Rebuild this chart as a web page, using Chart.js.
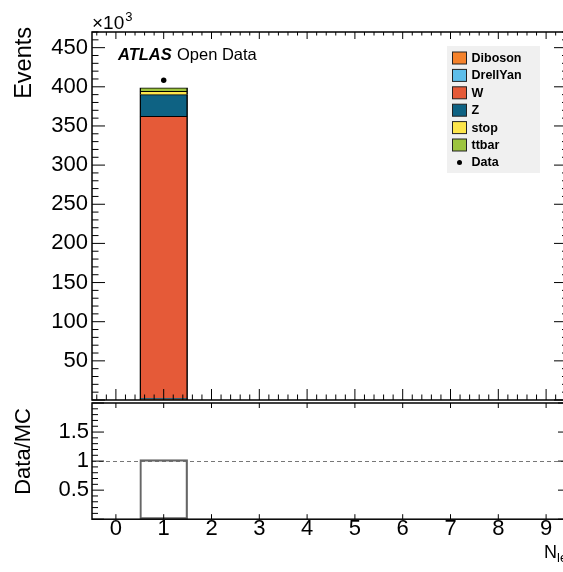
<!DOCTYPE html>
<html>
<head>
<meta charset="utf-8">
<title>N_lep</title>
<script src="https://cdn.jsdelivr.net/npm/chart.js@4.4.1/dist/chart.umd.min.js"></script>
<style>
  html, body { margin: 0; padding: 0; background: #fff; overflow: hidden; }
  #wrap { position: relative; width: 563px; height: 572px; overflow: hidden; }
  #mainPad { position: absolute; left: 0; top: 0; }
  #ratioPad { position: absolute; left: 0; top: 400px; }
</style>
</head>
<body>
<div id="wrap">
  <canvas id="mainPad" width="600" height="404"></canvas>
  <canvas id="ratioPad" width="600" height="172"></canvas>
</div>
<script>
// lepton multiplicity bins
const bins = [0, 1, 2, 3, 4, 5, 6, 7, 8, 9];

// stacked MC yields per bin, in units of 10^3 events
const diboson   = [0, 0.9, 0, 0, 0, 0, 0, 0, 0, 0];
const drellYan  = [0, 1.1, 0, 0, 0, 0, 0, 0, 0, 0];
const wJets     = [0, 360.3, 0, 0, 0, 0, 0, 0, 0, 0];
const zJets     = [0, 27.7, 0, 0, 0, 0, 0, 0, 0, 0];
const singleTop = [0, 4.2, 0, 0, 0, 0, 0, 0, 0, 0];
const ttbar     = [0, 4.4, 0, 0, 0, 0, 0, 0, 0, 0];

// observed events, 10^3
const dataCounts = [null, 408.3, null, null, null, null, null, null, null, null];

const eventTicks = [50, 100, 150, 200, 250, 300, 350, 400, 450];
const ratioTicks = [0.5, 1, 1.5];

const FONT = '"Liberation Sans", Arial, Helvetica, sans-serif';

// data / total MC, empty where there is no prediction
const mcTotal = bins.map((b, i) => diboson[i] + drellYan[i] + wJets[i] + zJets[i] + singleTop[i] + ttbar[i]);
const ratio = bins.map((b, i) => (mcTotal[i] > 0 && dataCounts[i] != null) ? dataCounts[i] / mcTotal[i] : null);

const processes = [
    { label: 'Diboson',  data: diboson,   color: '#f5822b' },
    { label: 'DrellYan', data: drellYan,  color: '#5ebeea' },
    { label: 'W',        data: wJets,     color: '#e55a38' },
    { label: 'Z',        data: zJets,     color: '#0e6283' },
    { label: 'stop',     data: singleTop, color: '#fde64b' },
    { label: 'ttbar',    data: ttbar,     color: '#9cc43f' }
];

// frame + ROOT style inward ticks on all four sides
function drawTicks(ctx, scale, from, to, minorStep, majorStep, horizontal, base, dir, majLen, minLen) {
    const m = Math.round(majorStep / minorStep);
    const k0 = Math.ceil(from / minorStep - 1e-6);
    const k1 = Math.floor(to / minorStep + 1e-6);
    for (let k = k0; k <= k1; k++) {
        const v = k * minorStep;
        const major = ((k % m) + m) % m === 0;
        const len = major ? majLen : minLen;
        if (len <= 0) continue;
        const p = scale.getPixelForValue(v);
        if (horizontal) {
            ctx.moveTo(p, base); ctx.lineTo(p, base + dir * len);
        } else {
            ctx.moveTo(base, p); ctx.lineTo(base + dir * len, p);
        }
    }
}

const rootFrame = {
    id: 'rootFrame',
    afterDatasetsDraw(chart, args, o) {
        const { ctx, chartArea: a, scales: { x, y } } = chart;
        ctx.save();
        ctx.strokeStyle = '#000';
        ctx.lineWidth = 1;
        ctx.beginPath();
        drawTicks(ctx, y, y.min, y.max, o.yMinor, o.yMajor, false, a.left, 1, o.yLeft[0], o.yLeft[1]);
        drawTicks(ctx, y, y.min, y.max, o.yMinor, o.yMajor, false, a.right, -1, o.yRight[0], o.yRight[1]);
        drawTicks(ctx, x, x.min, x.max, o.xMinor, o.xMajor, true, a.bottom, -1, o.xBottom[0], o.xBottom[1]);
        drawTicks(ctx, x, x.min, x.max, o.xMinor, o.xMajor, true, a.top, 1, o.xTop[0], o.xTop[1]);
        ctx.stroke();
        ctx.lineWidth = 1.5;
        ctx.strokeRect(a.left, a.top, a.right - a.left, a.bottom - a.top);
        ctx.restore();
    }
};

// rotated y title, its top end sitting at yEnd
function yTitle(ctx, text, cx, yEnd, size) {
    ctx.save();
    ctx.translate(cx, yEnd);
    ctx.rotate(-Math.PI / 2);
    ctx.font = size + 'px ' + FONT;
    ctx.fillStyle = '#000';
    ctx.textAlign = 'right';
    ctx.textBaseline = 'middle';
    ctx.fillText(text, 0, 0);
    ctx.restore();
}

const mainDecor = {
    id: 'mainDecor',
    afterDraw(chart) {
        const ctx = chart.ctx;
        ctx.save();
        ctx.fillStyle = '#000';
        ctx.textBaseline = 'alphabetic';

        // x10^3 multiplier above the axis
        ctx.font = '19px ' + FONT;
        ctx.fillText('\u00d710', 92, 29);
        const w = ctx.measureText('\u00d710').width;
        ctx.font = '13px ' + FONT;
        ctx.fillText('3', 92 + w + 1, 21);

        // ATLAS Open Data label
        ctx.font = 'italic bold 16.5px ' + FONT;
        ctx.fillText('ATLAS', 118, 60);
        ctx.font = '16.5px ' + FONT;
        ctx.fillText('Open Data', 177, 60);

        yTitle(ctx, 'Events', 25, 27, 23.5);

        // legend box
        const lx = 447, ly = 46, lw = 93, lh = 127;
        ctx.fillStyle = '#f0f0f0';
        ctx.fillRect(lx, ly, lw, lh);
        ctx.font = 'bold 12.5px ' + FONT;
        ctx.textBaseline = 'middle';
        const rows = chart.data.datasets.filter(d => d.type !== 'scatter');
        rows.forEach((d, i) => {
            const cy = 58 + i * 17.4;
            ctx.fillStyle = d.backgroundColor;
            ctx.fillRect(452.5, cy - 6, 14, 12);
            ctx.strokeStyle = '#222';
            ctx.lineWidth = 1;
            ctx.strokeRect(452.5, cy - 6, 14, 12);
            ctx.fillStyle = '#000';
            ctx.fillText(d.label, 471.5, cy + 0.5);
        });
        const dy = 58 + rows.length * 17.4;
        ctx.beginPath();
        ctx.arc(459.5, dy, 2.5, 0, Math.PI * 2);
        ctx.fill();
        ctx.fillText('Data', 471.5, dy + 0.5);
        ctx.restore();
    }
};

const ratioDecor = {
    id: 'ratioDecor',
    beforeDatasetsDraw(chart) {
        const { ctx, chartArea: a, scales: { y } } = chart;
        const py = Math.round(y.getPixelForValue(1)) + 0.5;
        ctx.save();
        ctx.strokeStyle = '#777';
        ctx.lineWidth = 1;
        ctx.setLineDash([4, 3]);
        ctx.beginPath();
        ctx.moveTo(a.left, py);
        ctx.lineTo(a.right, py);
        ctx.stroke();
        ctx.restore();
    },
    afterDraw(chart) {
        const ctx = chart.ctx;
        ctx.save();
        yTitle(ctx, 'Data/MC', 24, 8, 22);
        ctx.fillStyle = '#000';
        ctx.textBaseline = 'alphabetic';
        ctx.font = '18px ' + FONT;
        ctx.fillText('N', 544, 158);
        const w = ctx.measureText('N').width;
        ctx.font = '13px ' + FONT;
        ctx.fillText('lep', 544 + w, 162);
        ctx.restore();
    }
};

const xRange = {
    type: 'linear',
    min: -0.5,
    max: 9.5,
    offset: false,
    stacked: true,
    afterBuildTicks: s => { s.ticks = bins.map(v => ({ value: v })); }
};

const mainChart = new Chart(document.getElementById('mainPad'), {
    type: 'bar',
    data: {
        labels: bins,
        datasets: [
            {
                type: 'scatter',
                label: 'Data',
                data: dataCounts,
                stack: 'data',
                order: 0,
                pointRadius: 2.7,
                pointBackgroundColor: '#000',
                pointBorderWidth: 0
            },
            ...processes.map(p => ({
                label: p.label,
                data: p.data,
                stack: 'mc',
                order: 1,
                backgroundColor: p.color,
                borderColor: '#000',
                borderWidth: { top: 1, left: 1.5, right: 1.5, bottom: 0 },
                borderSkipped: false,
                barPercentage: 1,
                categoryPercentage: 1
            }))
        ]
    },
    options: {
        responsive: false,
        animation: false,
        layout: { padding: { top: 32, left: 0, right: 30, bottom: 4 } },
        plugins: {
            legend: { display: false },
            tooltip: { enabled: false },
            rootFrame: {
                yMinor: 10, yMajor: 50, yLeft: [13, 6.5], yRight: [16, 8],
                xMinor: 0.2, xMajor: 1, xBottom: [11, 5.5], xTop: [7, 3.5]
            }
        },
        scales: {
            x: Object.assign({}, xRange, { display: false, grid: { display: false, offset: false } }),
            y: {
                min: 0,
                max: 470,
                stacked: true,
                grid: { display: false, drawTicks: false },
                border: { display: false },
                afterBuildTicks: s => { s.ticks = eventTicks.map(v => ({ value: v })); },
                afterFit: s => { s.width = 92; },
                ticks: {
                    color: '#000',
                    padding: 4,
                    font: { family: FONT, size: 22, lineHeight: 0 },
                    callback: v => String(v)
                }
            }
        }
    },
    plugins: [rootFrame, mainDecor]
});

const ratioChart = new Chart(document.getElementById('ratioPad'), {
    type: 'bar',
    data: {
        labels: bins,
        datasets: [{
            label: 'Data/MC',
            data: ratio,
            backgroundColor: 'rgba(0,0,0,0)',
            borderColor: '#666',
            borderWidth: 1.5,
            borderSkipped: false,
            barPercentage: 1,
            categoryPercentage: 1
        }]
    },
    options: {
        responsive: false,
        animation: false,
        layout: { padding: { top: 3, left: 0, right: 30, bottom: 0 } },
        plugins: {
            legend: { display: false },
            tooltip: { enabled: false },
            rootFrame: {
                yMinor: 0.1, yMajor: 0.5, yLeft: [12, 6], yRight: [12, 6],
                xMinor: 1, xMajor: 1, xBottom: [5, 0], xTop: [5, 0]
            }
        },
        scales: {
            x: Object.assign({}, xRange, {
                grid: { display: false, drawTicks: false, offset: false },
                border: { display: false },
                afterFit: s => { s.height = 52.8; },
                ticks: {
                    color: '#000',
                    padding: -1,
                    maxRotation: 0,
                    autoSkip: false,
                    font: { family: FONT, size: 22, lineHeight: 1 },
                    callback: v => String(v)
                }
            }),
            y: {
                min: 0,
                max: 2,
                grid: { display: false, drawTicks: false },
                border: { display: false },
                afterBuildTicks: s => { s.ticks = ratioTicks.map(v => ({ value: v })); },
                afterFit: s => { s.width = 92; },
                ticks: {
                    color: '#000',
                    padding: 3,
                    font: { family: FONT, size: 22, lineHeight: 0 },
                    callback: v => String(v)
                }
            }
        }
    },
    plugins: [rootFrame, ratioDecor]
});
</script>
</body>
</html>
